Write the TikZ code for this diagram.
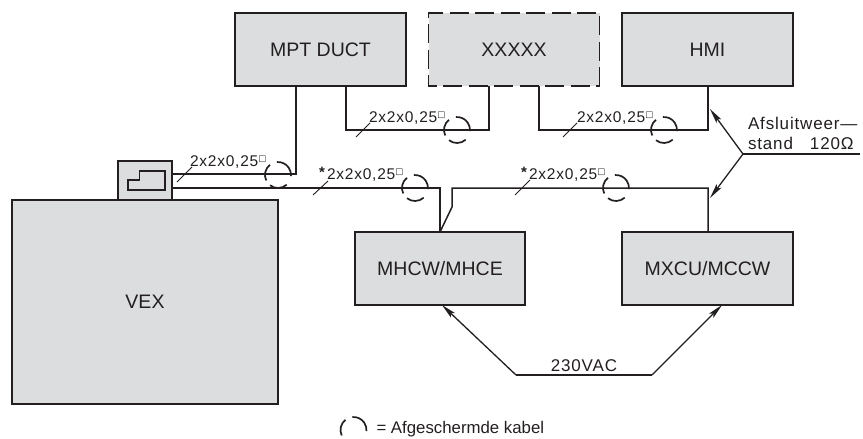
\documentclass[tikz,border=0pt]{standalone}
\usepackage{fontspec}
\setmainfont{Liberation Sans}
\newfontfamily\djv{DejaVu Sans Bold}
\newfontfamily\cadfont[LetterSpace=5]{Liberation Sans}
\usetikzlibrary{arrows.meta}
\definecolor{ink}{HTML}{231F20}
\definecolor{boxgrey}{HTML}{DCDDDE}
\newcommand{\fsz}[1]{\fontsize{#1}{#1}\selectfont}
\newcommand{\cable}{{\cadfont\fsz{15.5}2x2x0,25}\raisebox{4.6pt}{\djv\fsz{8.5}□}}
\newcommand{\shield}[1]{%
  \draw[shieldarc] (#1) ++(-95:13) arc[start angle=-95,end angle=5,radius=13];
  \draw[shieldarc] (#1) ++(-128:13) arc[start angle=-128,end angle=-205,radius=13];
  \draw[shieldarc] (#1) ++(-232:13) arc[start angle=-232,end angle=-312,radius=13];}
\tikzset{
  unit/.style={draw=ink,fill=boxgrey,line width=1.9pt,inner sep=0pt,outer sep=0pt,
    minimum width=171pt,minimum height=73pt,text=ink,font=\fsz{19.5}},
  wire/.style={draw=ink,line width=1.5pt,line join=miter},
  tick/.style={draw=ink,line width=0.9pt},
  shieldarc/.style={draw=ink,line width=1.7pt},
  leader/.style={draw=ink,line width=1.3pt,-{Stealth[length=15pt,width=6pt,inset=3pt]}},
  lab/.style={inner sep=0pt,outer sep=0pt,anchor=base west,text=ink},
}
\begin{document}
\begin{tikzpicture}[x=1pt,y=-1pt]
\useasboundingbox (0,0) rectangle (863,439);
% units
\node[unit] (mpt) at (320.5,49.5) {MPT DUCT};
\node[unit,draw=none] (xxx) at (514,49.5) {XXXXX};
\draw[draw=ink,line width=1.9pt,dash pattern=on 19pt off 6.5pt] (xxx.south east) -- (xxx.north east) -- (xxx.north west) -- (xxx.south west) -- cycle;
\node[unit] (hmi) at (707.5,49.5) {HMI};
\node[unit,minimum width=266pt,minimum height=204pt] (vex) at (145,302) {VEX};
\node[unit,minimum width=54pt,minimum height=39pt] (ctrl) at (145,180.5) {};
\node[unit,minimum width=170pt] (mhcw) at (440,268.5) {MHCW/MHCE};
\node[unit] (mxcu) at (707.5,268.5) {MXCU/MCCW};
% icon inside control box
\draw[draw=ink,line width=1.2pt] (128,180) -- (139.5,180) -- (139.5,171) -- (165,171) -- (165,190) -- (128,190) -- cycle;
% wires
\draw[wire] (mpt.south -| 296,0) -- (296,174) -- (ctrl.east |- 0,174);
\draw[wire] (mpt.south -| 346,0) -- (346,130) -- (489,130) -- (xxx.south -| 489,0);
\draw[wire] (xxx.south -| 539,0) -- (539,130) -- (708,130) -- (hmi.south -| 708,0);
\draw[wire] (ctrl.east |- 0,188) -- (440,188) -- (mhcw.north -| 440,0);
\draw[wire] (mxcu.north -| 708,0) -- (708,188) -- (452,188) -- (452,207) -- (mhcw.north -| 440,0);
% tick marks
\draw[tick] (177,182) -- (192,167);
\draw[tick] (313,195) -- (328,181);
\draw[tick] (356,137) -- (370,123);
\draw[tick] (563,137) -- (577,123);
\draw[tick] (515,195) -- (530,180);
% shields
\shield{278,175}
\shield{415,188}
\shield{457,130}
\shield{664,130}
\shield{616,188}
\shield{353.5,430}
% cable labels
\node[lab] (la) at (190,166) {\cable};
\node[lab] (lc) at (369,122) {\cable};
\node[lab] (ld) at (577,122) {\cable};
\node[lab] (lb) at (327,179) {\cable};
\node[lab] (le) at (529,179) {\cable};
\node[text=ink,inner sep=0pt,font=\bfseries\fsz{15}] (sb) at (322,172.5) {*};
\node[text=ink,inner sep=0pt,font=\bfseries\fsz{15}] (se) at (524,172.5) {*};
% terminator
\coordinate (ta) at (743,154);
\coordinate (te) at (860,154);
\coordinate (tu) at (710,109);
\coordinate (tl) at (710,198);
\draw[draw=ink,line width=1.4pt] (te) -- (ta);
\draw[leader] (ta) -- (tu);
\draw[leader] (ta) -- (tl);
\node[lab,font=\cadfont\fsz{17}] (t1) at (748,129) {Afsluitweer—};
\node[lab,font=\cadfont\fsz{17}] (t2) at (748,149) {stand\hspace{17pt}120Ω};
% mains
\coordinate (ma) at (516,375);
\coordinate (mb) at (652,375);
\draw[draw=ink,line width=1.4pt] (ma) -- (mb);
\draw[leader] (ma) -- (mhcw.south -| 442,0);
\draw[leader] (mb) -- (mxcu.south -| 722,0);
\node[text=ink,inner sep=0pt,anchor=base,font=\cadfont\fsz{17}] (mains) at (584,371) {230VAC};
% legend
\node[lab,font=\fsz{16.8}] (leg) at (376.5,433) {= Afgeschermde kabel};
\end{tikzpicture}
\end{document}
